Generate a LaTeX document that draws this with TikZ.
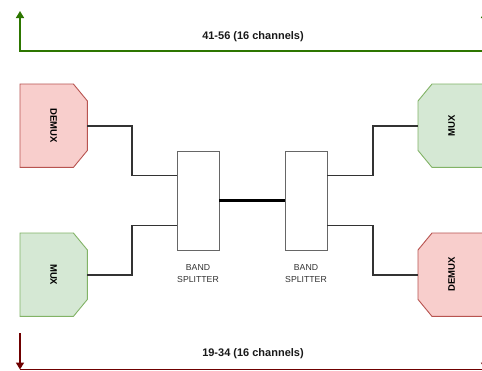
\documentclass[tikz,border=0pt]{standalone}
\usepackage{fontspec}
\setmainfont{Liberation Sans}
\usepackage{graphicx}
\usetikzlibrary{arrows.meta,calc,backgrounds}
\definecolor{demuxfill}{HTML}{F8CECC}
\definecolor{demuxline}{HTML}{B85450}
\definecolor{muxfill}{HTML}{D5E8D4}
\definecolor{muxline}{HTML}{82B366}
\definecolor{upgreen}{HTML}{2D7600}
\definecolor{downred}{HTML}{6F0000}
\definecolor{wire}{HTML}{333333}
\definecolor{labelgray}{HTML}{333333}
\definecolor{boxline}{HTML}{666666}
\begin{document}
\begin{tikzpicture}[x=1pt,y=-1pt,
  unit/.style={anchor=north west,minimum width=67pt,minimum height=83pt,inner sep=0pt,
    font=\fontsize{9.5}{11}\selectfont\bfseries},
  demuxshape/.style={fill=demuxfill,draw=demuxline,line width=0.9pt},
  muxshape/.style={fill=muxfill,draw=muxline,line width=0.9pt},
  splitter/.style={draw=boxline,fill=white,line width=0.9pt,minimum width=42pt,minimum height=99pt,inner sep=0pt},
  splitlabel/.style={font=\fontsize{8.7}{12.8}\selectfont,text=labelgray,align=center,inner sep=0pt,anchor=north},
  wireline/.style={draw=wire,line width=1.7pt},
  thickwire/.style={draw=black,line width=3pt},
  chan/.style={font=\fontsize{11}{13}\selectfont\bfseries,text=black!90},
  greenarrow/.style={draw=upgreen,line width=1.5pt},
  redarrow/.style={draw=downred,line width=1.5pt},
  tip/.style={-{Triangle[length=7pt,width=8pt]}}
]
\clip (0,0) rectangle (482,370);

% units
\node[unit] (ldemux) at (20,84) {\rotatebox{-90}{DEMUX}};
\node[unit] (lmux) at (20,233) {\rotatebox{-90}{MUX}};
\node[unit] (rmux) at (418,84) {\rotatebox{90}{MUX}};
\node[unit] (rdemux) at (418,233) {\rotatebox{90}{DEMUX}};

\begin{pgfonlayer}{background}
\fill[white] (0,0) rectangle (482,370);
\path[demuxshape] (ldemux.north west) -- ([xshift=-14pt]ldemux.north east) -- ([yshift=-17pt]ldemux.north east)
  -- ([yshift=17pt]ldemux.south east) -- ([xshift=-14pt]ldemux.south east) -- (ldemux.south west) -- cycle;
\path[muxshape] (lmux.north west) -- ([xshift=-14pt]lmux.north east) -- ([yshift=-17pt]lmux.north east)
  -- ([yshift=17pt]lmux.south east) -- ([xshift=-14pt]lmux.south east) -- (lmux.south west) -- cycle;
\path[muxshape] (rmux.north east) -- ([xshift=14pt]rmux.north west) -- ([yshift=-17pt]rmux.north west)
  -- ([yshift=17pt]rmux.south west) -- ([xshift=14pt]rmux.south west) -- (rmux.south east) -- cycle;
\path[demuxshape] (rdemux.north east) -- ([xshift=14pt]rdemux.north west) -- ([yshift=-17pt]rdemux.north west)
  -- ([yshift=17pt]rdemux.south west) -- ([xshift=14pt]rdemux.south west) -- (rdemux.south east) -- cycle;
\end{pgfonlayer}

% band splitters
\node[splitter] (bs1) at (198,200.5) {};
\node[splitter] (bs2) at (306,200.5) {};
\node[splitlabel] (bs1lab) at ([yshift=-13.5pt]bs1.south) {BAND\\SPLITTER};
\node[splitlabel] (bs2lab) at ([yshift=-13.5pt]bs2.south) {BAND\\SPLITTER};

% ports
\coordinate (bs1a) at ($(bs1.north west)!0.25!(bs1.south west)$);
\coordinate (bs1b) at ($(bs1.north west)!0.75!(bs1.south west)$);
\coordinate (bs2a) at ($(bs2.north east)!0.25!(bs2.south east)$);
\coordinate (bs2b) at ($(bs2.north east)!0.75!(bs2.south east)$);

% wires
\draw[wireline] (ldemux.east) -| ($(ldemux.east)!0.5!(bs1a)$) |- (bs1a);
\draw[wireline] (lmux.east) -| ($(lmux.east)!0.5!(bs1b)$) |- (bs1b);
\draw[wireline] (bs2a) -| ($(bs2a)!0.5!(rmux.west)$) |- (rmux.west);
\draw[wireline] (bs2b) -| ($(bs2b)!0.5!(rdemux.west)$) |- (rdemux.west);
\draw[thickwire] (bs1.east) -- (bs2.west);

% channel arrows
\coordinate (tl) at (20,51);
\coordinate (tltip) at (20,11);
\coordinate (tr) at (485,51);
\coordinate (trtip) at (485,11);
\draw[greenarrow,tip] (tr) -- (tl) -- (tltip);
\draw[greenarrow,tip] (tr) -- (trtip);
\node[chan] (toptext) at (253,37) {41-56 (16 channels)};

\coordinate (bl0) at (20,333);
\coordinate (bl) at (20,369.5);
\coordinate (br0) at (485,333);
\coordinate (br) at (485,369.5);
\draw[redarrow] (bl) -- (br);
\draw[redarrow,tip] (bl0) -- (bl);
\draw[redarrow,tip] (br0) -- (br);
\node[chan] (bottext) at (253,354) {19-34 (16 channels)};
\end{tikzpicture}
\end{document}
